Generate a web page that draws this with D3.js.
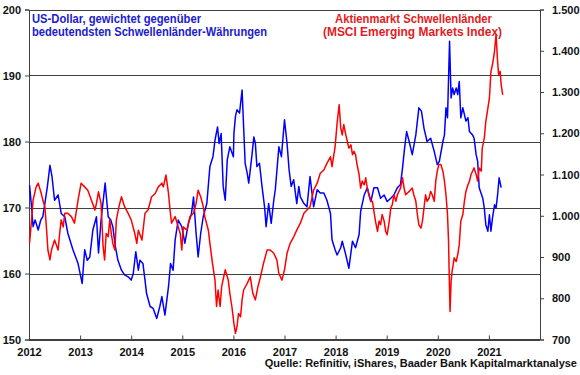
<!DOCTYPE html>
<html><head><meta charset="utf-8">
<script src="https://cdn.jsdelivr.net/npm/d3@7"></script>
<style>
html,body{margin:0;padding:0;background:#fff;}
svg text{font-family:"Liberation Sans",Arial,sans-serif;font-weight:bold;}
</style></head>
<body><svg id="c" width="580" height="375"></svg>
<script>
// ---- data (decimal years) ----
const usdDates = [2012.01,2012.05,2012.08,2012.12,2012.18,2012.23,2012.27,2012.31,2012.36,2012.41,2012.45,2012.50,2012.57,2012.63,2012.70,2012.76,2012.86,2012.96,
2013.04,2013.09,2013.14,2013.19,2013.25,2013.32,2013.36,2013.41,2013.49,2013.55,2013.60,2013.64,2013.69,2013.74,2013.81,2013.87,2013.94,
2014.00,2014.04,2014.09,2014.14,2014.17,2014.23,2014.27,2014.30,2014.37,2014.43,2014.50,2014.56,2014.60,2014.66,2014.73,2014.77,2014.82,2014.86,2014.92,2014.99,
2015.05,2015.12,2015.18,2015.22,2015.27,2015.31,2015.36,2015.41,2015.48,2015.54,2015.60,2015.64,2015.69,2015.72,2015.76,2015.80,2015.84,2015.88,2015.93,
2016.00,2016.01,2016.04,2016.07,2016.12,2016.17,2016.20,2016.23,2016.27,2016.30,2016.33,2016.36,2016.40,2016.43,2016.46,2016.51,2016.56,2016.61,2016.64,2016.69,2016.74,2016.79,2016.82,2016.89,2016.94,
2017.00,2017.05,2017.09,2017.13,2017.18,2017.24,2017.28,2017.31,2017.38,2017.44,2017.50,2017.57,2017.64,2017.70,2017.77,2017.83,2017.90,2017.93,2017.99,
2018.03,2018.10,2018.13,2018.20,2018.26,2018.33,2018.39,2018.46,2018.49,2018.56,2018.62,2018.69,2018.75,2018.82,2018.88,2018.95,
2019.01,2019.08,2019.14,2019.21,2019.27,2019.31,2019.35,2019.39,2019.44,2019.50,2019.57,2019.63,2019.68,2019.73,2019.79,2019.86,2019.93,2019.99,
2020.03,2020.10,2020.13,2020.16,2020.19,2020.23,2020.26,2020.29,2020.32,2020.36,2020.39,2020.42,2020.45,2020.49,2020.52,2020.55,2020.59,2020.62,2020.68,2020.71,2020.75,2020.78,2020.81,2020.88,2020.91,2020.94,2020.98,
2021.01,2021.04,2021.07,2021.11,2021.14,2021.17,2021.20,2021.24];
const usdValues = [173.4,170.1,167.1,168.1,166.6,168.1,168.6,170.6,173.2,176.4,174.7,171.1,171.9,169.1,168.6,166.1,163.6,161.5,
158.5,163.6,162.0,162.5,166.6,168.6,163.1,168.1,173.7,168.6,168.1,167.1,164.1,162.0,160.5,159.8,159.5,
159.0,160.0,163.3,160.5,162.0,161.5,159.0,157.0,155.0,154.7,153.2,155.0,156.5,153.7,158.0,161.5,160.5,165.1,168.1,167.1,
164.6,167.6,169.1,171.6,166.1,162.5,166.1,168.6,170.6,176.2,177.7,180.2,182.2,179.7,181.2,173.2,171.1,177.2,179.2,
177.7,181.2,183.8,184.8,184.3,187.8,182.2,176.7,175.2,173.7,175.7,177.7,180.7,179.7,176.2,176.7,173.2,170.1,167.1,170.6,167.6,171.1,172.7,179.2,177.7,
183.3,179.7,175.7,173.2,174.2,170.6,173.2,171.6,170.6,170.1,174.7,170.1,172.7,172.2,172.2,171.1,169.1,165.1,163.6,
162.8,163.9,164.9,162.8,160.8,164.9,163.9,165.9,169.4,171.9,173.0,170.9,173.0,173.0,171.4,171.9,
170.9,171.4,171.9,173.0,173.5,176.0,179.0,181.5,180.0,178.0,181.0,185.1,184.6,182.0,180.0,180.5,178.5,176.5,
177.0,180.0,181.0,185.1,183.6,195.2,186.6,188.1,187.1,188.1,187.1,189.1,183.6,185.1,184.1,183.1,183.6,181.5,181.0,180.5,178.0,177.0,173.0,171.4,169.9,167.4,166.4,
168.9,166.4,168.4,170.4,169.9,171.9,174.5,173.0];

const emDates = [2012.01,2012.05,2012.08,2012.14,2012.18,2012.24,2012.27,2012.31,2012.34,2012.37,2012.41,2012.44,2012.50,2012.57,2012.60,2012.63,2012.67,2012.70,2012.76,2012.83,2012.89,2012.96,
2013.02,2013.09,2013.15,2013.22,2013.29,2013.32,2013.36,2013.41,2013.45,2013.48,2013.51,2013.55,2013.58,2013.61,2013.64,2013.68,2013.71,2013.76,2013.81,2013.87,2013.94,
2014.00,2014.07,2014.11,2014.14,2014.21,2014.27,2014.33,2014.40,2014.47,2014.53,2014.60,2014.63,2014.68,2014.73,2014.76,2014.79,2014.86,2014.92,2014.96,2014.99,
2015.02,2015.09,2015.15,2015.22,2015.27,2015.31,2015.36,2015.41,2015.44,2015.51,2015.54,2015.59,2015.64,2015.67,2015.70,2015.74,2015.77,2015.84,2015.90,2015.93,2015.97,
2016.01,2016.04,2016.07,2016.10,2016.14,2016.17,2016.20,2016.27,2016.33,2016.38,2016.43,2016.48,2016.53,2016.59,2016.66,2016.72,2016.79,2016.85,2016.89,2016.95,
2017.00,2017.05,2017.11,2017.18,2017.24,2017.31,2017.38,2017.44,2017.50,2017.57,2017.64,2017.70,2017.77,2017.83,2017.90,2017.93,2017.99,
2018.03,2018.07,2018.10,2018.13,2018.16,2018.20,2018.23,2018.26,2018.30,2018.33,2018.36,2018.39,2018.42,2018.46,2018.49,2018.52,2018.56,2018.59,2018.62,2018.65,2018.69,2018.72,2018.75,2018.78,2018.82,2018.85,2018.88,2018.91,2018.95,2018.98,
2019.01,2019.05,2019.08,2019.11,2019.14,2019.18,2019.21,2019.27,2019.31,2019.34,2019.37,2019.44,2019.50,2019.53,2019.57,2019.60,2019.63,2019.67,2019.70,2019.73,2019.76,2019.79,2019.83,2019.86,2019.89,2019.93,2019.96,2019.99,
2020.02,2020.06,2020.10,2020.13,2020.16,2020.19,2020.21,2020.23,2020.24,2020.26,2020.28,2020.30,2020.32,2020.36,2020.39,2020.42,2020.45,2020.49,2020.52,2020.55,2020.59,2020.62,2020.65,2020.68,2020.71,2020.75,2020.78,2020.81,2020.85,2020.87,2020.91,2020.94,2020.98,
2021.01,2021.04,2021.07,2021.11,2021.14,2021.17,2021.19,2021.22,2021.24,2021.27];
const emValues = [933,990,1038,1070,1079,1054,1038,1022,973,917,893,917,941,917,957,990,973,1006,1006,998,982,1038,
1079,1070,1062,1038,1014,1030,1058,1030,925,893,957,949,990,957,933,917,990,1022,1046,1022,1006,
990,957,933,965,941,1006,1014,1046,1054,1070,1079,1070,1099,1054,1014,982,998,973,957,917,
973,965,998,1006,1030,1062,1046,1022,998,965,933,885,844,780,820,780,828,869,844,812,780,
739,715,731,763,755,796,820,836,852,812,796,828,852,885,917,917,909,893,860,844,
869,909,933,949,965,982,1006,1014,1022,1062,1079,1103,1111,1127,1143,1119,1167,
1225,1269,1213,1196,1221,1196,1180,1164,1172,1148,1156,1148,1124,1100,1067,1084,1075,1092,1067,1051,1035,1035,1011,987,962,987,978,1003,987,962,
954,987,1019,1027,1051,1035,1051,1067,1092,1067,1051,1059,1067,1051,1035,1003,978,970,987,1019,1051,1035,1043,1059,1051,1035,1084,1108,
1124,1124,1108,1084,1051,1003,938,817,768,841,865,881,898,889,906,930,987,1003,1035,1059,1075,1084,1100,1108,1116,1100,1084,1116,1108,1164,1188,1229,1261,
1285,1350,1366,1399,1439,1374,1342,1350,1318,1293];

const yearTicks = [2012,2013,2014,2015,2016,2017,2018,2019,2020,2021];
const leftTicks = [150,160,170,180,190,200];
const rightTicks = [700,800,900,1000,1100,1200,1300,1400,1500];
const usdLabel = ["US-Dollar, gewichtet gegenüber","bedeutendsten Schwellenländer-Währungen"];
const emLabel = ["Aktienmarkt Schwellenländer","(MSCI Emerging Markets Index)"];
const sourceLabel = "Quelle: Refinitiv, iShares, Baader Bank Kapitalmarktanalyse";

// ---- layout ----
const L = 29, R = 540, T = 9.5, B = 339.5;
const svg = d3.select("#c");
const x = d3.scaleLinear().domain([2012, 2022]).range([L, R]);
const yL = d3.scaleLinear().domain([150, 200]).range([B, T]);
const yR = d3.scaleLinear().domain([700, 1500]).range([B, T]);
const de = d3.formatLocale({decimal: ",", thousands: ".", grouping: [3], currency: ["", "€"]});
const fmtR = de.format(",d");
const axisCol = "#404040";

// gridlines
svg.append("g").selectAll("line").data(leftTicks).join("line")
  .attr("x1", L).attr("x2", R)
  .attr("y1", d => Math.round(yL(d)) + 0.5).attr("y2", d => Math.round(yL(d)) + 0.5)
  .attr("stroke", axisCol).attr("stroke-width", 1);

// axes
const gl = svg.append("g").attr("transform", `translate(${L},0)`)
  .call(d3.axisLeft(yL).tickValues(leftTicks).tickSize(4).tickPadding(4).tickFormat(d3.format("d")));
const gr = svg.append("g").attr("transform", `translate(${R},0)`)
  .call(d3.axisRight(yR).tickValues(rightTicks).tickSize(4).tickPadding(8).tickFormat(fmtR));
const gx = svg.append("g").attr("transform", `translate(0,${B})`)
  .call(d3.axisBottom(x).tickValues(yearTicks).tickSize(-4).tickPadding(9).tickFormat(d3.format("d")));
[gl, gr, gx].forEach(g => {
  g.selectAll("path").attr("stroke", axisCol);
  g.selectAll("line").attr("stroke", axisCol);
  g.selectAll("text").attr("fill", "#111").style("font-size", "11px")
   .style("font-family", "'Liberation Sans', Arial, sans-serif").style("font-weight", "bold");
});
gx.select(".domain").remove();
svg.append("line").attr("x1", L).attr("x2", R).attr("y1", B).attr("y2", B).attr("stroke", axisCol);

// lines
svg.append("clipPath").attr("id", "pc").append("rect")
  .attr("x", L).attr("y", T - 1).attr("width", R - L).attr("height", B - T + 1);
const usdLine = d3.line().x((d, i) => x(usdDates[i])).y(d => yL(d));
const emLine = d3.line().x((d, i) => x(emDates[i])).y(d => yR(d));
svg.append("path").datum(usdValues).attr("d", usdLine).attr("fill", "none")
  .attr("stroke", "#0000ff").attr("stroke-width", 1.5).attr("stroke-linejoin", "round").attr("clip-path", "url(#pc)");
svg.append("path").datum(emValues).attr("d", emLine).attr("fill", "none")
  .attr("stroke", "#ff0000").attr("stroke-width", 1.5).attr("stroke-linejoin", "round").attr("clip-path", "url(#pc)");

// labels
const usdLen = [169, 235];
const emX = [335, 323], emLen = [157, 179];
svg.append("g").selectAll("text").data(usdLabel).join("text")
  .attr("x", 32).attr("y", (d, i) => 23 + i * 12.5)
  .attr("textLength", (d, i) => usdLen[i]).attr("lengthAdjust", "spacingAndGlyphs")
  .attr("fill", "#2020cc").style("font-size", "12px")
  .text(d => d);
svg.append("g").selectAll("text").data(emLabel).join("text")
  .attr("x", (d, i) => emX[i]).attr("y", (d, i) => 23 + i * 12.5)
  .attr("textLength", (d, i) => emLen[i]).attr("lengthAdjust", "spacingAndGlyphs")
  .attr("fill", "#e31b23").style("font-size", "12px")
  .text(d => d);
svg.append("text").attr("x", 577).attr("y", 367).attr("text-anchor", "end")
  .attr("fill", "#111").style("font-size", "11px").text(sourceLabel);
</script></body></html>
